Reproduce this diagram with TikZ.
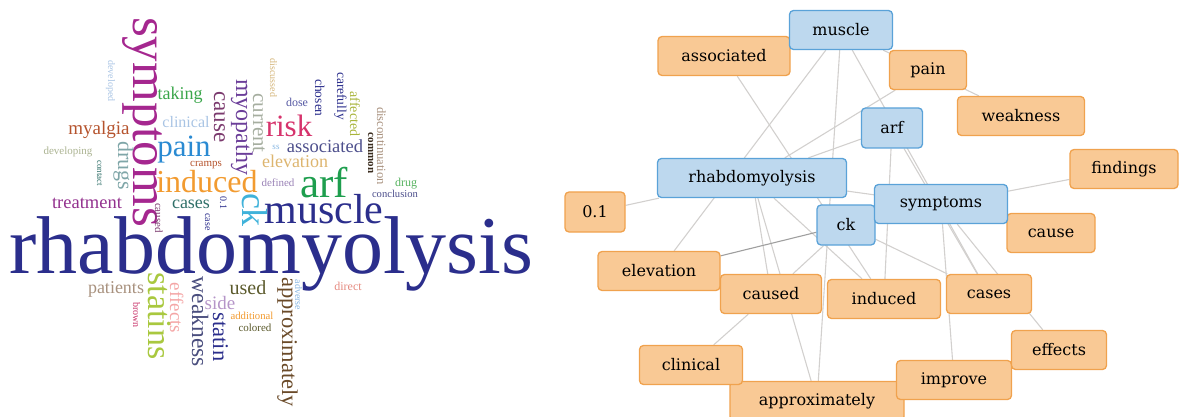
\documentclass[tikz,border=0pt]{standalone}
\usepackage{fontspec}
\setmainfont{Liberation Serif}
\newfontfamily\netfont{DejaVu Serif}
\usetikzlibrary{backgrounds}

% word cloud colours
\definecolor{cNavy}{HTML}{2B2E8C}
\definecolor{cSymp}{HTML}{A5278F}
\definecolor{cPain}{HTML}{2A8AD2}
\definecolor{cInduced}{HTML}{F29B30}
\definecolor{cArf}{HTML}{1E9E4E}
\definecolor{cRisk}{HTML}{D6336C}
\definecolor{cTaking}{HTML}{3AA64A}
\definecolor{cClinical}{HTML}{A9C4E4}
\definecolor{cMyalgia}{HTML}{B5532D}
\definecolor{cTreat}{HTML}{93318E}
\definecolor{cCases}{HTML}{2F6F68}
\definecolor{cStatins}{HTML}{A9C83F}
\definecolor{cWeak}{HTML}{4A4E7E}
\definecolor{cEffects}{HTML}{F4A6A6}
\definecolor{cPatients}{HTML}{A8917E}
\definecolor{cSide}{HTML}{B595C8}
\definecolor{cUsed}{HTML}{5B5A2C}
\definecolor{cApprox}{HTML}{6A4A28}
\definecolor{cElev}{HTML}{DDB56F}
\definecolor{cAssoc}{HTML}{4D4F8C}
\definecolor{cMyop}{HTML}{6B3E99}
\definecolor{cCause}{HTML}{7B3A6E}
\definecolor{cCurrent}{HTML}{A6AEA0}
\definecolor{cDrugs}{HTML}{7FA6A8}
\definecolor{cDevel}{HTML}{ABB391}
\definecolor{cCk}{HTML}{3FB2DA}
\definecolor{cTan}{HTML}{D4B57A}
\definecolor{cOlive}{HTML}{A8B43A}
\definecolor{cDark}{HTML}{3A2C1E}
\definecolor{cGreen}{HTML}{55B25E}
\definecolor{cSalmon}{HTML}{E58A80}
\definecolor{cLight}{HTML}{86B6E2}
\definecolor{cPink}{HTML}{C8336A}
\definecolor{cPurple}{HTML}{9A82B6}
% network colours
\definecolor{kwFill}{HTML}{F9C995}
\definecolor{kwLine}{HTML}{F0A24E}
\definecolor{hubFill}{HTML}{BDD8EE}
\definecolor{hubLine}{HTML}{5AA2D8}
\definecolor{edgeGray}{HTML}{D2D0CE}

\newcommand\fs[1]{\fontsize{#1}{#1}\selectfont}

\begin{document}
\begin{tikzpicture}[x=1pt, y=-1pt,
    wc/.style={inner sep=0pt, anchor=base},
    vw/.style={wc, rotate=-90},
    box/.style={rounded corners=4pt, line width=1.3pt, minimum height=39pt,
      inner sep=0pt, font=\netfont\fs{16}, text=black},
    kw/.style={box, draw=kwLine, fill=kwFill},
    hub/.style={box, draw=hubLine, fill=hubFill},
    edge/.style={draw=edgeGray, line width=1.1pt},
    darkedge/.style={draw=gray!75, line width=1.1pt}]
  \useasboundingbox (0,0) rectangle (1179,417);

  % ---- word cloud ----
  \node[wc, text=cNavy, font=\fs{82}] (wRhabdo) at (271.5,273) {rhabdomyolysis};
  \node[vw, text=cSymp, font=\fs{51}] (wSymp) at (133,122) {symptoms};
  \node[wc, text=cNavy, font=\fs{42}] (wMuscle) at (324,224) {muscle};
  \node[wc, text=cArf, font=\fs{43}] (wArf) at (324,198) {arf};
  \node[wc, text=cInduced, font=\fs{32}] (wInduced) at (207,193) {induced};
  \node[wc, text=cPain, font=\fs{31}] (wPain) at (184,157) {pain};
  \node[wc, text=cRisk, font=\fs{31}] (wRisk) at (289,137) {risk};
  \node[vw, text=cCk, font=\fs{36}] (wCk) at (242,210) {ck};
  \node[vw, text=cStatins, font=\fs{34}] (wStatins) at (148,316) {statins};
  \node[wc, text=cTaking, font=\fs{18}] (wTaking) at (180,100) {taking};
  \node[wc, text=cClinical, font=\fs{16}] (wClinical) at (186,128) {clinical};
  \node[wc, text=cMyalgia, font=\fs{19}] (wMyalgia) at (99,135) {myalgia};
  \node[wc, text=cDevel, font=\fs{11}] (wDeveloping) at (68,155) {developing};
  \node[wc, text=cTreat, font=\fs{18.5}] (wTreat) at (87,208) {treatment};
  \node[wc, text=cCases, font=\fs{18}] (wCases) at (191,208) {cases};
  \node[wc, text=cMyalgia, font=\fs{11}] (wCramps) at (206,167) {cramps};
  \node[wc, text=cNavy!80, font=\fs{12}] (wDose) at (297,107) {dose};
  \node[wc, text=cAssoc, font=\fs{18.5}] (wAssoc) at (325,153) {associated};
  \node[wc, text=cLight, font=\fs{9}] (wSs) at (276,150) {ss};
  \node[wc, text=cElev, font=\fs{18}] (wElev) at (295,168) {elevation};
  \node[wc, text=cPurple, font=\fs{11}] (wDefined) at (278,187) {defined};
  \node[wc, text=cGreen, font=\fs{12}] (wDrug) at (406,187) {drug};
  \node[wc, text=cAssoc, font=\fs{10.6}] (wConcl) at (395,198) {conclusion};
  \node[wc, text=cPatients, font=\fs{18}] (wPatients) at (116,293) {patients};
  \node[wc, text=cSide, font=\fs{19}] (wSide) at (220,309) {side};
  \node[wc, text=cUsed, font=\fs{20}] (wUsed) at (248,294) {used};
  \node[wc, text=cInduced, font=\fs{10.7}] (wAdd) at (252,319) {additional};
  \node[wc, text=cUsed, font=\fs{11}] (wColored) at (255,331) {colored};
  \node[wc, text=cSalmon, font=\fs{12}] (wDirect) at (348,290) {direct};
  \node[vw, text=cCause, font=\fs{23}] (wCause) at (214,117) {cause};
  \node[vw, text=cMyop, font=\fs{24}] (wMyop) at (236,127) {myopathy};
  \node[vw, text=cCurrent, font=\fs{21}] (wCurrent) at (253,123) {current};
  \node[vw, text=cDrugs, font=\fs{22}] (wDrugs) at (118,166) {drugs};
  \node[vw, text=cCases, font=\fs{9}] (wContact) at (97,173) {contact};
  \node[vw, text=cClinical, font=\fs{10}] (wDeveloped) at (108,81) {developed};
  \node[vw, text=cTan, font=\fs{10}] (wDiscuss) at (270,78) {discussed};
  \node[vw, text=cNavy, font=\fs{13.5}] (wChosen) at (315,98) {chosen};
  \node[vw, text=cNavy, font=\fs{13.5}] (wCareful) at (337,96) {carefully};
  \node[vw, text=cOlive, font=\fs{14}] (wAffected) at (350,114) {affected};
  \node[vw, text=cDark, font=\bfseries\fs{11}] (wCommon) at (368,153) {common};
  \node[vw, text=cPatients, font=\fs{12.6}] (wDiscont) at (377,146) {discontinuation};
  \node[vw, text=cNavy, font=\fs{10}] (wPoint) at (220,203) {0.1};
  \node[vw, text=cNavy, font=\fs{10}] (wCase) at (205,222) {case};
  \node[vw, text=cCause, font=\fs{11}] (wCaused) at (155,218) {caused};
  \node[vw, text=cPink, font=\fs{10}] (wBrown) at (133,315) {brown};
  \node[vw, text=cEffects, font=\fs{19}] (wEffects) at (170,308) {effects};
  \node[vw, text=cWeak, font=\fs{23.5}] (wWeak) at (192,322) {weakness};
  \node[vw, text=cNavy, font=\fs{22.5}] (wStatin) at (213,337) {statin};
  \node[vw, text=cApprox, font=\fs{22.5}] (wApprox) at (282,342) {approximately};
  \node[vw, text=cLight, font=\fs{10}] (wAdverse) at (295,295) {adverse};

  % ---- keyword network ----
  \node[kw, minimum width=174pt] (approximately) at (817,401) {approximately};
  \node[kw, minimum width=103pt] (clinical) at (691,365) {clinical};
  \node[kw, minimum width=115pt] (improve) at (954,380) {improve};
  \node[kw, minimum width=95pt] (effects) at (1059,350) {effects};
  \node[kw, minimum width=122pt] (elevation) at (659,271) {elevation};
  \node[kw, minimum width=101pt] (caused) at (771,294) {caused};
  \node[kw, minimum width=113pt] (induced) at (884,299) {induced};
  \node[kw, minimum width=85pt] (cases) at (989,294) {cases};
  \node[kw, minimum width=88pt] (cause) at (1051,233) {cause};
  \node[kw, minimum width=60pt, minimum height=40pt] (point) at (595,212) {0.1};
  \node[kw, minimum width=108pt] (findings) at (1124,169) {findings};
  \node[kw, minimum width=127pt] (weakness) at (1021,116) {weakness};
  \node[kw, minimum width=77pt] (pain) at (928,70) {pain};
  \node[kw, minimum width=132pt] (associated) at (724,56) {associated};
  \node[hub, minimum width=103pt] (muscle) at (841,30) {muscle};
  \node[hub, minimum width=61pt, minimum height=40pt] (arf) at (892,128) {arf};
  \node[hub, minimum width=189pt] (rhabdo) at (752,178) {rhabdomyolysis};
  \node[hub, minimum width=58pt, minimum height=40pt] (ck) at (846,225) {ck};
  \node[hub, minimum width=133pt] (symptoms) at (941,204) {symptoms};

  \begin{scope}[on background layer]
    \draw[edge] (rhabdo) -- (point);
    \draw[edge] (rhabdo) -- (pain);
    \draw[edge] (rhabdo) -- (arf);
    \draw[edge] (rhabdo) -- (symptoms);
    \draw[edge] (rhabdo) -- (caused);
    \draw[edge] (rhabdo) -- (induced);
    \draw[edge] (rhabdo) -- (approximately);
    \draw[edge] (muscle) -- (elevation);
    \draw[edge] (muscle) -- (weakness);
    \draw[edge] (muscle) -- (cases);
    \draw[edge] (muscle) -- (approximately);
    \draw[edge] (associated) -- (induced);
    \draw[edge] (arf) -- (cases);
    \draw[edge] (arf) -- (induced);
    \draw[edge] (symptoms) -- (findings);
    \draw[edge] (symptoms) -- (improve);
    \draw[edge] (symptoms) -- (effects);
    \draw[edge] (caused) -- (clinical);
    \draw[edge] (ck) -- (caused);
    \draw[edge] (ck) -- (cases);
    \draw[darkedge] (ck) -- (elevation);
  \end{scope}
\end{tikzpicture}
\end{document}
